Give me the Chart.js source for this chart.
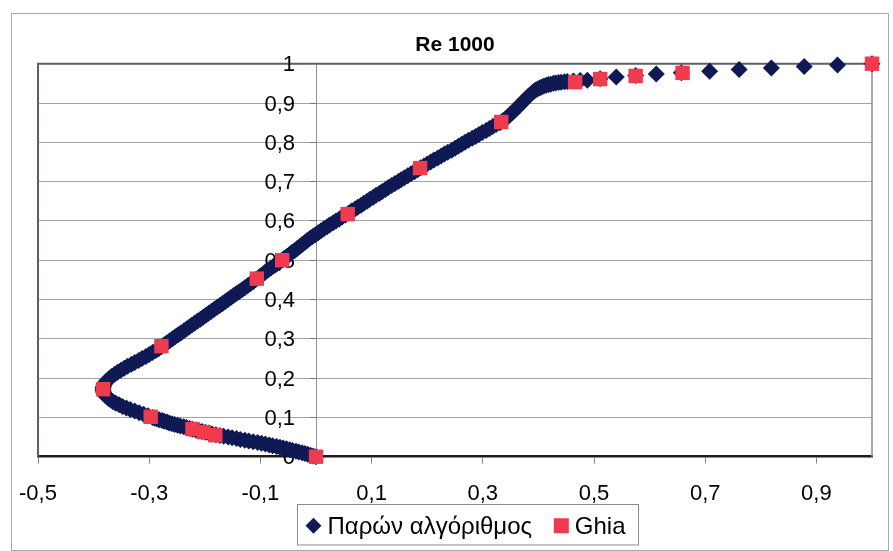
<!DOCTYPE html>
<html>
<head>
<meta charset="utf-8">
<script src="https://cdn.jsdelivr.net/npm/chart.js@4.4.1/dist/chart.umd.min.js"></script>
<style>
  html, body { margin: 0; padding: 0; background: #ffffff; }
  #wrap { width: 893px; height: 551px; }
</style>
</head>
<body>
<div id="wrap"><canvas id="c" width="893" height="551"></canvas></div>
<script>
// u-velocity along the vertical centre line, Re = 1000
const presentY = [
  0.000, 0.002, 0.004, 0.006, 0.008, 0.010, 0.012, 0.014, 0.016, 0.018,
  0.020, 0.022, 0.024, 0.026, 0.028, 0.030, 0.032, 0.034, 0.036, 0.038,
  0.040, 0.042, 0.044, 0.046, 0.048, 0.050, 0.052, 0.054, 0.056, 0.058,
  0.060, 0.062, 0.064, 0.066, 0.068, 0.070, 0.072, 0.074, 0.076, 0.078,
  0.080, 0.082, 0.084, 0.086, 0.088, 0.090, 0.092, 0.094, 0.096, 0.098,
  0.100, 0.104, 0.108, 0.112, 0.116, 0.120, 0.124, 0.128, 0.132, 0.136,
  0.140, 0.144, 0.148, 0.152, 0.156, 0.160, 0.164, 0.168, 0.172, 0.176,
  0.180, 0.184, 0.188, 0.192, 0.196, 0.200, 0.205, 0.210, 0.215, 0.220,
  0.225, 0.230, 0.235, 0.240, 0.245, 0.250, 0.255, 0.260, 0.265, 0.270,
  0.275, 0.280, 0.285, 0.290, 0.295, 0.300, 0.305, 0.310, 0.315, 0.320,
  0.325, 0.330, 0.335, 0.340, 0.345, 0.350, 0.355, 0.360, 0.365, 0.370,
  0.375, 0.380, 0.385, 0.390, 0.395, 0.400, 0.405, 0.410, 0.415, 0.420,
  0.425, 0.430, 0.435, 0.440, 0.445, 0.450, 0.455, 0.460, 0.465, 0.470,
  0.475, 0.480, 0.485, 0.490, 0.495, 0.500, 0.505, 0.510, 0.515, 0.520,
  0.525, 0.530, 0.535, 0.540, 0.545, 0.550, 0.555, 0.560, 0.565, 0.570,
  0.575, 0.580, 0.585, 0.590, 0.595, 0.600, 0.605, 0.610, 0.615, 0.620,
  0.625, 0.630, 0.635, 0.640, 0.645, 0.650, 0.655, 0.660, 0.665, 0.670,
  0.675, 0.680, 0.685, 0.690, 0.695, 0.700, 0.705, 0.710, 0.715, 0.720,
  0.725, 0.730, 0.735, 0.740, 0.745, 0.750, 0.755, 0.760, 0.765, 0.770,
  0.775, 0.780, 0.785, 0.790, 0.795, 0.800, 0.805, 0.810, 0.815, 0.820,
  0.825, 0.830, 0.835, 0.840, 0.845, 0.850, 0.855, 0.860, 0.865, 0.870,
  0.875, 0.880, 0.885, 0.890, 0.895, 0.900, 0.905, 0.910, 0.915, 0.920,
  0.925, 0.930, 0.933, 0.936, 0.939, 0.941, 0.943, 0.945, 0.947, 0.948,
  0.950, 0.951, 0.952, 0.953, 0.954, 0.955, 0.956, 0.957, 0.958, 0.962,
  0.966, 0.970, 0.974, 0.977, 0.981, 0.985, 0.989, 0.993, 0.997, 1.000
];
const presentU = [
  0.000, -0.005, -0.010, -0.015, -0.020, -0.025, -0.031, -0.036, -0.042, -0.047,
  -0.053, -0.059, -0.065, -0.071, -0.078, -0.084, -0.091, -0.098, -0.105, -0.113,
  -0.121, -0.128, -0.136, -0.143, -0.151, -0.158, -0.166, -0.173, -0.180, -0.187,
  -0.193, -0.199, -0.205, -0.211, -0.216, -0.222, -0.227, -0.233, -0.238, -0.244,
  -0.249, -0.254, -0.259, -0.264, -0.268, -0.273, -0.277, -0.282, -0.286, -0.290,
  -0.294, -0.302, -0.310, -0.318, -0.326, -0.334, -0.341, -0.348, -0.354, -0.360,
  -0.365, -0.369, -0.373, -0.376, -0.379, -0.381, -0.382, -0.383, -0.383, -0.383,
  -0.382, -0.381, -0.379, -0.377, -0.374, -0.371, -0.367, -0.362, -0.357, -0.351,
  -0.345, -0.339, -0.332, -0.326, -0.319, -0.313, -0.306, -0.300, -0.294, -0.288,
  -0.283, -0.278, -0.273, -0.268, -0.263, -0.258, -0.253, -0.248, -0.243, -0.238,
  -0.233, -0.228, -0.223, -0.218, -0.213, -0.208, -0.203, -0.198, -0.193, -0.188,
  -0.183, -0.178, -0.173, -0.168, -0.163, -0.158, -0.153, -0.148, -0.143, -0.138,
  -0.133, -0.128, -0.123, -0.118, -0.113, -0.109, -0.104, -0.100, -0.095, -0.091,
  -0.086, -0.081, -0.076, -0.071, -0.066, -0.061, -0.057, -0.052, -0.047, -0.043,
  -0.038, -0.034, -0.029, -0.025, -0.020, -0.016, -0.011, -0.006, -0.001, 0.004,
  0.009, 0.014, 0.020, 0.025, 0.031, 0.036, 0.042, 0.047, 0.053, 0.059,
  0.064, 0.070, 0.075, 0.081, 0.086, 0.092, 0.097, 0.103, 0.108, 0.114,
  0.119, 0.125, 0.130, 0.136, 0.142, 0.148, 0.153, 0.159, 0.165, 0.171,
  0.177, 0.183, 0.188, 0.194, 0.200, 0.206, 0.212, 0.219, 0.225, 0.231,
  0.237, 0.244, 0.250, 0.256, 0.262, 0.268, 0.274, 0.281, 0.287, 0.293,
  0.299, 0.306, 0.312, 0.318, 0.324, 0.331, 0.336, 0.341, 0.345, 0.349,
  0.353, 0.356, 0.360, 0.363, 0.367, 0.370, 0.374, 0.377, 0.381, 0.384,
  0.388, 0.392, 0.395, 0.399, 0.403, 0.406, 0.410, 0.414, 0.418, 0.422,
  0.427, 0.431, 0.436, 0.441, 0.447, 0.452, 0.463, 0.475, 0.488, 0.511,
  0.540, 0.575, 0.612, 0.657, 0.708, 0.761, 0.819, 0.878, 0.938, 1.000
];

// Reference values of Ghia et al.
const ghiaY = [1.0000, 0.9766, 0.9688, 0.9609, 0.9531, 0.8516, 0.7344, 0.6172, 0.5000,
               0.4531, 0.2813, 0.1719, 0.1016, 0.0703, 0.0625, 0.0547, 0.0000];
const ghiaU = [1.00000, 0.65928, 0.57492, 0.51117, 0.46604, 0.33304, 0.18719, 0.05702, -0.06080,
               -0.10648, -0.27805, -0.38289, -0.29730, -0.22220, -0.20196, -0.18109, 0.00000];

const seriesNames = ['Παρών αλγόριθμος', 'Ghia'];
const chartTitle = 'Re 1000';

const xTickValues = [-0.5, -0.3, -0.1, 0.1, 0.3, 0.5, 0.7, 0.9];
const xTickLabels = ['-0,5', '-0,3', '-0,1', '0,1', '0,3', '0,5', '0,7', '0,9'];
const yTickValues = [0, 0.1, 0.2, 0.3, 0.4, 0.5, 0.6, 0.7, 0.8, 0.9, 1];
const yTickLabels = ['0', '0,1', '0,2', '0,3', '0,4', '0,5', '0,6', '0,7', '0,8', '0,9', '1'];

const NAVY = '#0f1a55';
const RED = '#ef3b4e';
const FONT = '"Liberation Sans", Arial, sans-serif';
const TICK_FONT_SIZE = 22;

Chart.defaults.font.family = FONT;
Chart.defaults.color = '#000';

// outer border of the chart, frame of the plot area and the y labels beside the x = 0 axis
const framePlugin = {
  id: 'frame',
  beforeDraw(chart) {
    const ctx = chart.ctx;
    ctx.save();
    ctx.fillStyle = '#fff';
    ctx.fillRect(0, 0, chart.width, chart.height);
    ctx.strokeStyle = '#a4a8b0';
    ctx.lineWidth = 1;
    ctx.strokeRect(11.5, 13.5, 877, 537);
    ctx.restore();
  },
  beforeDatasetsDraw(chart) {
    const a = chart.chartArea;
    const ctx = chart.ctx;
    ctx.save();
    ctx.strokeStyle = '#5b5f68';
    ctx.lineWidth = 2;
    ctx.beginPath();
    ctx.moveTo(a.left, a.bottom);
    ctx.lineTo(a.left, a.top);
    ctx.lineTo(a.right, a.top);
    ctx.stroke();
    ctx.strokeStyle = '#8a8e96';
    ctx.lineWidth = 1.5;
    ctx.beginPath();
    ctx.moveTo(a.right, a.top);
    ctx.lineTo(a.right, a.bottom);
    ctx.stroke();

    // y tick labels, right-aligned a little to the left of the y axis line
    const xs = chart.scales.x, ys = chart.scales.y;
    const axisX = xs.getPixelForValue(0);
    ctx.fillStyle = '#000';
    ctx.font = TICK_FONT_SIZE + 'px ' + FONT;
    ctx.textAlign = 'right';
    ctx.textBaseline = 'middle';
    yTickValues.forEach((v, i) => {
      ctx.fillText(yTickLabels[i], axisX - 21, ys.getPixelForValue(v) + 1.5);
    });
    ctx.restore();
  }
};

// boxed legend below the x axis
const legendPlugin = {
  id: 'boxLegend',
  afterDraw(chart) {
    const ctx = chart.ctx;
    const ds = chart.data.datasets;
    ctx.save();
    ctx.font = '24px ' + FONT;
    const w0 = ctx.measureText(ds[0].label).width;
    const w1 = ctx.measureText(ds[1].label).width;
    const mark = 16, gapText = 6, padL = 8, padR = 13;
    const boxW = 341;
    const gapItem = Math.max(8, boxW - (padL + mark + gapText + w0 + mark + gapText + w1 + padR));
    const total = padL + mark + gapText + w0 + gapItem + mark + gapText + w1 + padR;
    const cx = 467;
    const left = Math.round(cx - total / 2) + 0.5;
    const top = 504.5, h = 40.5;
    ctx.strokeStyle = '#8c8c8c';
    ctx.lineWidth = 1;
    ctx.strokeRect(left, top, total, h);
    const cy = top + h / 2 + 1;
    let x = left + padL + mark / 2;
    ctx.fillStyle = ds[0].backgroundColor;
    ctx.beginPath();
    ctx.moveTo(x, cy - 8);
    ctx.lineTo(x + 8, cy);
    ctx.lineTo(x, cy + 8);
    ctx.lineTo(x - 8, cy);
    ctx.closePath();
    ctx.fill();
    x += mark / 2 + gapText;
    ctx.fillStyle = '#000';
    ctx.textBaseline = 'alphabetic';
    ctx.textAlign = 'left';
    ctx.fillText(ds[0].label, x, cy + 8);
    x += w0 + gapItem;
    ctx.fillStyle = ds[1].backgroundColor;
    ctx.fillRect(x + 1, cy - 7.5, 15, 15);
    x += mark + gapText;
    ctx.fillStyle = '#000';
    ctx.fillText(ds[1].label, x, cy + 8);
    ctx.restore();
  }
};

new Chart(document.getElementById('c'), {
  type: 'scatter',
  data: {
    datasets: [
      {
        label: seriesNames[0],
        data: presentU.map((u, i) => ({ x: u, y: presentY[i] })),
        pointStyle: 'rectRot',
        pointRadius: 8.5,
        backgroundColor: NAVY,
        borderColor: NAVY,
        borderWidth: 0,
        clip: false,
        order: 2
      },
      {
        label: seriesNames[1],
        data: ghiaU.map((u, i) => ({ x: u, y: ghiaY[i] })),
        pointStyle: 'rect',
        pointRadius: 10.2,
        backgroundColor: RED,
        borderColor: RED,
        borderWidth: 0,
        clip: false,
        order: 1
      }
    ]
  },
  options: {
    responsive: false,
    animation: false,
    devicePixelRatio: 1,
    events: [],
    layout: { padding: { left: 38, right: 21, top: 22, bottom: 39.3 } },
    plugins: {
      legend: { display: false },
      tooltip: { enabled: false },
      title: {
        display: true,
        text: chartTitle,
        color: '#000',
        font: { family: FONT, size: 21, weight: 'bold', lineHeight: 1.2 },
        padding: { top: 11.1, bottom: 5.4 }
      }
    },
    scales: {
      x: {
        type: 'linear',
        position: 'bottom',
        min: -0.5,
        max: 1.0,
        afterBuildTicks: (s) => { s.ticks = xTickValues.map(v => ({ value: v })); },
        afterFit: (s) => { s.height = 55; },
        ticks: {
          callback: (v, i) => xTickLabels[i],
          font: { size: TICK_FONT_SIZE },
          color: '#000',
          padding: 17,
          maxRotation: 0,
          autoSkip: false
        },
        grid: {
          drawOnChartArea: false,
          drawTicks: true,
          tickLength: 7,
          tickColor: '#8a8a8a',
          lineWidth: 1
        },
        border: { display: true, color: '#1e1e1e', width: 2.5 }
      },
      y: {
        type: 'linear',
        position: { x: 0 },
        min: 0,
        max: 1,
        afterBuildTicks: (s) => { s.ticks = yTickValues.map(v => ({ value: v })); },
        ticks: { display: false },
        grid: {
          color: '#a3a3a3',
          lineWidth: 1,
          tickLength: 6,
          tickColor: '#777'
        },
        border: { display: true, color: '#8c909a', width: 1 }
      }
    }
  },
  plugins: [framePlugin, legendPlugin]
});
</script>
</body>
</html>
